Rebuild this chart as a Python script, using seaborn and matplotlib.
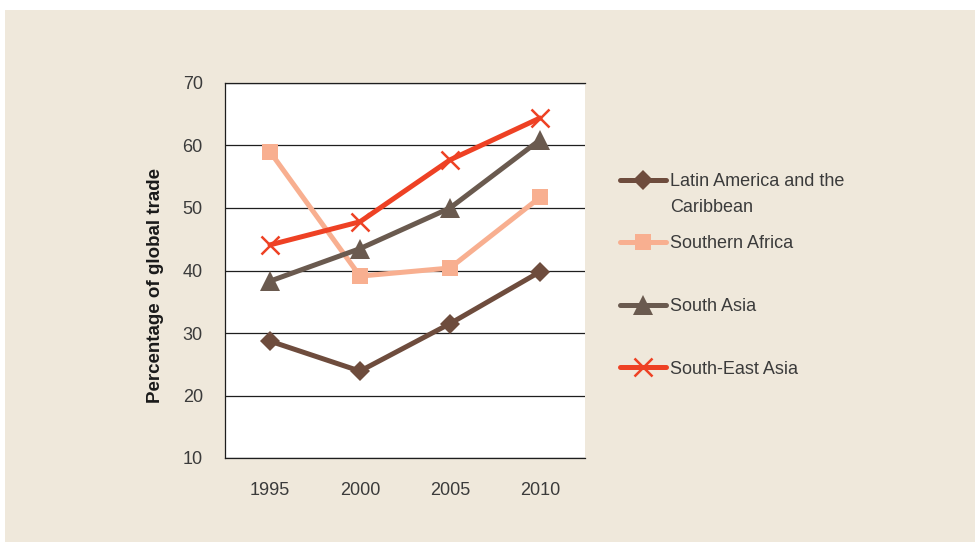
import matplotlib
matplotlib.use("Agg")
import matplotlib.pyplot as plt
from matplotlib.patches import Rectangle
import seaborn as sns
import pandas as pd

# Share of global trade by region, 1995-2010
years = [1995, 2000, 2005, 2010]
latin_america = [28.7, 23.9, 31.5, 39.8]
southern_africa = [59.0, 39.1, 40.4, 51.7]
south_asia = [38.3, 43.5, 50.0, 60.9]
south_east_asia = [44.1, 47.8, 57.7, 64.4]

regions = ["Latin America and the", "Southern Africa", "South Asia", "South-East Asia"]
series = [latin_america, southern_africa, south_asia, south_east_asia]

colors = ["#6E4C3D", "#F8AF90", "#6A5A4F", "#EE4124"]
markers = ["D", "s", "^", "x"]
marker_sizes = [10.5, 11.5, 14.5, 12.5]

yticks = [10, 20, 30, 40, 50, 60, 70]

rows = []
for name, vals in zip(regions, series):
    for yr, v in zip(years, vals):
        rows.append({"year": yr, "share": v, "region": name})
df = pd.DataFrame(rows)

sns.set_theme(style="white")
plt.rcParams["font.family"] = ["Liberation Sans", "DejaVu Sans"]

text_color = "#3B3B3B"
panel_color = "#EFE8DB"

fig = plt.figure(figsize=(9.76, 5.43), dpi=100, facecolor="white")
fig.patches.append(Rectangle((5 / 976, 1 / 543), 970 / 976, 532 / 543,
                             transform=fig.transFigure, facecolor=panel_color,
                             edgecolor="none", zorder=-10))

ax = fig.add_axes([225 / 976, 85 / 543, 360 / 976, 375 / 543])
ax.set_facecolor("white")

for name, col, mk, ms in zip(regions, colors, markers, marker_sizes):
    sub = df[df["region"] == name]
    extra = {"markeredgewidth": 1.8, "markeredgecolor": col} if mk == "x" else {"markeredgewidth": 0}
    sns.lineplot(data=sub, x="year", y="share", ax=ax, color=col, linewidth=3.6,
                 marker=mk, markersize=ms, label=name, **extra)

ax.set_xlim(1992.5, 2012.5)
ax.set_ylim(10, 70)
ax.set_xticks(years)
ax.set_xticklabels([str(y) for y in years])
ax.set_yticks(yticks)
ax.set_yticklabels([str(t) for t in yticks])
ax.yaxis.grid(True, color="#1E1E1E", linewidth=0.9)
ax.xaxis.grid(False)
ax.set_axisbelow(True)

for side in ["left", "bottom", "top"]:
    ax.spines[side].set_visible(True)
    ax.spines[side].set_color("#1E1E1E")
    ax.spines[side].set_linewidth(0.9)
ax.spines["right"].set_visible(False)

ax.tick_params(axis="x", length=0, pad=17, labelsize=13, labelcolor=text_color)
ax.tick_params(axis="y", length=0, pad=16, labelsize=13, labelcolor=text_color)

ax.set_xlabel("")
ax.set_ylabel("Percentage of global trade", fontsize=13.5, fontweight="bold",
              color="#1A1A1A")
ax.yaxis.set_label_coords(-0.17, 0.46)

handles, labels = ax.get_legend_handles_labels()
leg = ax.legend(handles, labels, loc="upper left",
                bbox_to_anchor=(620 / 976, (543 - 173) / 543),
                bbox_transform=fig.transFigure, frameon=False,
                fontsize=13, handlelength=2.55, handletextpad=0.22,
                labelspacing=2.52, borderpad=0, borderaxespad=0)
for t in leg.get_texts():
    t.set_color(text_color)

# second line of the first legend label, placed under its first line
ax.annotate("Caribbean", xy=(0, 0), xycoords=leg.get_texts()[0],
            xytext=(0, -6.5), textcoords="offset points", va="top", ha="left",
            fontsize=13, color=text_color, annotation_clip=False, zorder=10)

fig.savefig("out.png", dpi=100, facecolor=fig.get_facecolor())
